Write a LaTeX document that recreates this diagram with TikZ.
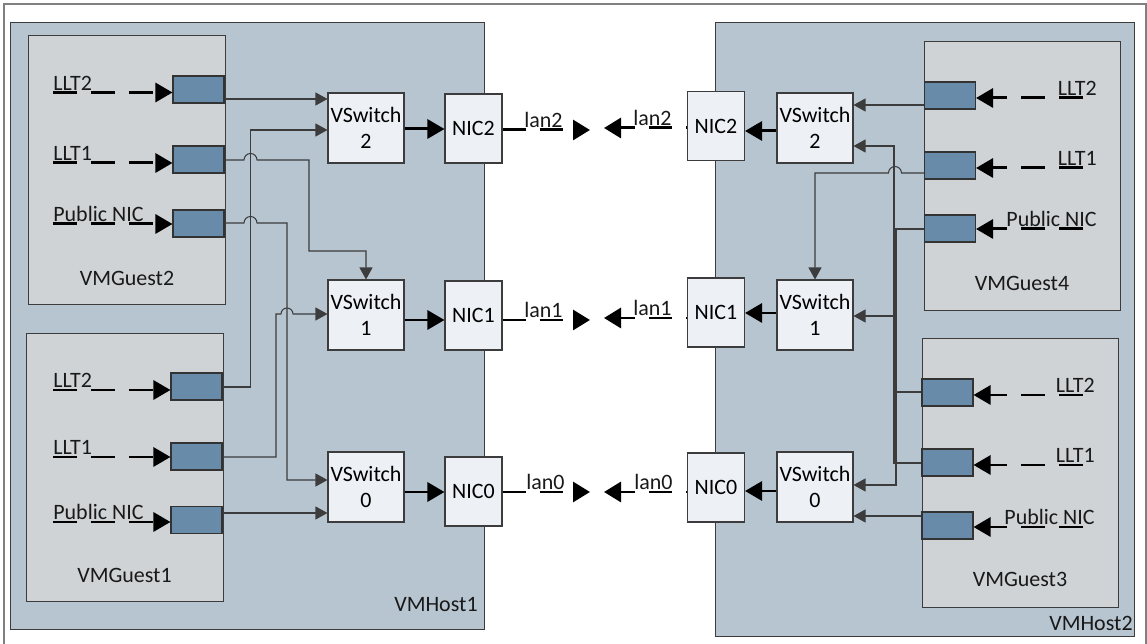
\documentclass[tikz,border=0pt]{standalone}
\usepackage[dvipsnames]{xcolor}
\usepackage{fontspec}
\setmainfont{Carlito}
\usetikzlibrary{arrows.meta}

\definecolor{hostfill}{RGB}{183,197,208}
\definecolor{guestfill}{RGB}{208,211,214}
\definecolor{portfill}{RGB}{104,139,170}
\definecolor{boxfill}{RGB}{237,241,246}
\definecolor{edgegray}{RGB}{60,60,60}
\definecolor{framegray}{RGB}{128,128,128}

\begin{document}
\begin{tikzpicture}[x=0.02cm,y=-0.02cm,font=\fontsize{12.5}{14.5}\selectfont,
    host/.style={draw=edgegray,fill=hostfill,line width=0.6pt,inner sep=0pt},
    guest/.style={draw=edgegray,fill=guestfill,line width=0.6pt,inner sep=0pt,minimum width=3.93cm,minimum height=5.37cm},
    port/.style={draw=black!80,fill=portfill,line width=0.6pt,inner sep=0pt,minimum width=1.02cm,minimum height=0.54cm},
    vswitch/.style={draw=edgegray,fill=boxfill,line width=0.6pt,inner sep=0pt,align=center,minimum width=1.52cm,minimum height=1.4cm},
    nic/.style={draw=edgegray,fill=boxfill,line width=0.6pt,inner sep=0pt,minimum width=1.14cm,minimum height=1.38cm},
    txt/.style={inner sep=0pt,text=black!90},
    conn/.style={draw=edgegray,line width=0.6pt,-{Triangle[length=0.24cm,width=0.26cm]}},
    thk/.style={draw=black,line width=1.7pt,-{Triangle[length=0.34cm,width=0.38cm]}},
    feed/.style={draw=black,line width=1.7pt,dash pattern=on 0.48cm off 0.28cm,-{Triangle[length=0.34cm,width=0.38cm]}},
    lan/.style={draw=black,line width=1.7pt,dash pattern=on 0.46cm off 0.28cm,-{Triangle[length=0.34cm,width=0.4cm]}}]
    \useasboundingbox (0,0) rectangle (1147,644);
    \draw[framegray,line width=0.6pt] (4,644) -- (4,4) -- (1146,4) -- (1146,644);

    \node[host,minimum width=9.5cm,minimum height=12.16cm] (host1) at (247.5,326) {};
    \node[host,minimum width=8.4cm,minimum height=12.3cm] (host2) at (925,329.5) {};
    \node[guest] (guest2) at (127,170) {};
    \node[guest] (guest1) at (125,467.5) {};
    \node[guest] (guest4) at (1022.5,176) {};
    \node[guest] (guest3) at (1020.5,473) {};

    \node[txt,anchor=east] (hostname1) at (478,605) {VMHost1};
    \node[txt,anchor=east] (hostname2) at (1133,623) {VMHost2};
    \node[txt] (guestname2) at (127,278) {VMGuest2};
    \node[txt] (guestname1) at (124.5,575) {VMGuest1};
    \node[txt] (guestname4) at (1022,283) {VMGuest4};
    \node[txt] (guestname3) at (1020,579.5) {VMGuest3};

    \node[port] (g2a) at (198.5,89.5) {};
    \node[port] (g2b) at (198.5,159.5) {};
    \node[port] (g2c) at (198.5,223.5) {};
    \node[port] (g1a) at (196.5,386.5) {};
    \node[port] (g1b) at (196.5,456.5) {};
    \node[port] (g1c) at (196.5,520) {};
    \node[port] (g4a) at (950,95.5) {};
    \node[port] (g4b) at (950,165.5) {};
    \node[port] (g4c) at (950,228.5) {};
    \node[port] (g3a) at (947.5,392.5) {};
    \node[port] (g3b) at (947.5,462.5) {};
    \node[port] (g3c) at (947.5,525.5) {};

    \node[vswitch] (vl2) at (366,128) {VSwitch\\2};
    \node[vswitch] (vl1) at (366,315) {VSwitch\\1};
    \node[vswitch] (vl0) at (366,487) {VSwitch\\0};
    \node[nic] (nl2) at (473.5,128.5) {NIC2};
    \node[nic] (nl1) at (473.5,315.5) {NIC1};
    \node[nic] (nl0) at (473.5,491.5) {NIC0};
    \node[vswitch] (vr2) at (815,128) {VSwitch\\2};
    \node[vswitch] (vr1) at (815,315) {VSwitch\\1};
    \node[vswitch] (vr0) at (815,487) {VSwitch\\0};
    \node[nic] (nr2) at (716,126) {NIC2};
    \node[nic] (nr1) at (716,312.5) {NIC1};
    \node[nic] (nr0) at (716,487.5) {NIC0};

    % dashed inputs into the guest ports
    \coordinate (in2a) at (53,92.5);
    \coordinate (in2b) at (53,163);
    \coordinate (in2c) at (53,224);
    \coordinate (in1a) at (53,390);
    \coordinate (in1b) at (53,457);
    \coordinate (in1c) at (53,522);
    \coordinate (in4a) at (1083,98);
    \coordinate (in4b) at (1083,168);
    \coordinate (in4c) at (1083,229);
    \coordinate (in3a) at (1083,395);
    \coordinate (in3b) at (1083,465);
    \coordinate (in3c) at (1083,527);
    \node[txt,anchor=base west] (llt2a) at (53,90.5) {LLT2};
    \node[txt,anchor=base west] (llt2b) at (53,161) {LLT1};
    \node[txt,anchor=base west] (llt2c) at (53,222) {Public NIC};
    \node[txt,anchor=base west] (llt1a) at (53,388) {LLT2};
    \node[txt,anchor=base west] (llt1b) at (53,455) {LLT1};
    \node[txt,anchor=base west] (llt1c) at (53,520) {Public NIC};
    \node[txt,anchor=base east] (llt4a) at (1097,96) {LLT2};
    \node[txt,anchor=base east] (llt4b) at (1097,166) {LLT1};
    \node[txt,anchor=base east] (llt4c) at (1097,227) {Public NIC};
    \node[txt,anchor=base east] (llt3a) at (1095,393) {LLT2};
    \node[txt,anchor=base east] (llt3b) at (1095,463) {LLT1};
    \node[txt,anchor=base east] (llt3c) at (1095,525) {Public NIC};
    \draw[feed] (in2a) -- (g2a.west |- in2a);
    \draw[feed] (in2b) -- (g2b.west |- in2b);
    \draw[feed] (in2c) -- (g2c.west |- in2c);
    \draw[feed] (in1a) -- (g1a.west |- in1a);
    \draw[feed] (in1b) -- (g1b.west |- in1b);
    \draw[feed] (in1c) -- (g1c.west |- in1c);
    \draw[feed] (in4a) -- (g4a.east |- in4a);
    \draw[feed] (in4b) -- (g4b.east |- in4b);
    \draw[feed] (in4c) -- (g4c.east |- in4c);
    \draw[feed] (in3a) -- (g3a.east |- in3a);
    \draw[feed] (in3b) -- (g3b.east |- in3b);
    \draw[feed] (in3c) -- (g3c.east |- in3c);

    % VMHost1 wiring
    \draw[conn] (g2a.east |- 0,99) -- (vl2.west |- 0,99);
    \draw[conn] (g1a.east |- 0,387) -| (250.5,130) -- (vl2.west |- 0,130);
    \draw[conn] (g2b.east |- 0,160) -- (244,160) arc[start angle=180,end angle=360,radius=6.5] -- (309,160) |- (vl1.north |- 0,251) -- (vl1.north);
    \draw[conn] (g2c.east |- 0,223) -- (244,223) arc[start angle=180,end angle=360,radius=6.5] -- (287,223) |- (vl0.west |- 0,480);
    \draw[conn] (g1b.east |- 0,457) -| (276,314) -- (281,314) arc[start angle=180,end angle=360,radius=6] -- (vl1.west |- 0,314);
    \draw[conn] (g1c.east |- 0,513) -- (vl0.west |- 0,513);

    % VMHost2 wiring
    \draw[conn] (g4a.west |- 0,105) -- (vr2.east |- 0,105);
    \draw[conn] (g3a.west |- 0,392) -| (894,146) -- (vr2.east |- 0,146);
    \draw[conn] (g4b.west |- 0,173) -- (901.5,173) arc[start angle=0,end angle=-180,radius=6.5] -| (vr1.north);
    \draw[conn] (g3b.west |- 0,463) -| (894,316) -- (vr1.east |- 0,316);
    \draw[conn] (g4c.west |- 0,229) -| (896,485) -- (vr0.east |- 0,485);
    \draw[conn] (g3c.west |- 0,516) -- (vr0.east |- 0,516);

    \draw[thk] (vl2.east |- 0,129) -- (nl2.west |- 0,129);
    \draw[thk] (vl1.east |- 0,320) -- (nl1.west |- 0,320);
    \draw[thk] (vl0.east |- 0,492) -- (nl0.west |- 0,492);
    \draw[thk] (vr2.west |- 0,131) -- (nr2.east |- 0,131);
    \draw[thk] (vr1.west |- 0,313) -- (nr1.east |- 0,313);
    \draw[thk] (vr0.west |- 0,491) -- (nr0.east |- 0,491);

    % lan links between the hosts
    \coordinate (tipl2) at (590,130);
    \coordinate (tipl1) at (590,320);
    \coordinate (tipl0) at (590,492);
    \coordinate (tipr2) at (604,128);
    \coordinate (tipr1) at (604,318);
    \coordinate (tipr0) at (604,492);
    \draw[lan] (nl2.east |- tipl2) -- (tipl2);
    \draw[lan] (nl1.east |- tipl1) -- (tipl1);
    \draw[lan] (nl0.east |- tipl0) -- (tipl0);
    \draw[lan,dash phase=0.44cm] (nr2.west |- tipr2) -- (tipr2);
    \draw[lan,dash phase=0.44cm] (nr1.west |- tipr1) -- (tipr1);
    \draw[lan,dash phase=0.44cm] (nr0.west |- tipr0) -- (tipr0);
    \node[txt,anchor=base west] (lanl2) at (524,128) {lan2};
    \node[txt,anchor=base west] (lanl1) at (524,318) {lan1};
    \node[txt,anchor=base west] (lanl0) at (526,490) {lan0};
    \node[txt,anchor=base west] (lanr2) at (633,126) {lan2};
    \node[txt,anchor=base west] (lanr1) at (633,316) {lan1};
    \node[txt,anchor=base west] (lanr0) at (634,490) {lan0};
\end{tikzpicture}
\end{document}
